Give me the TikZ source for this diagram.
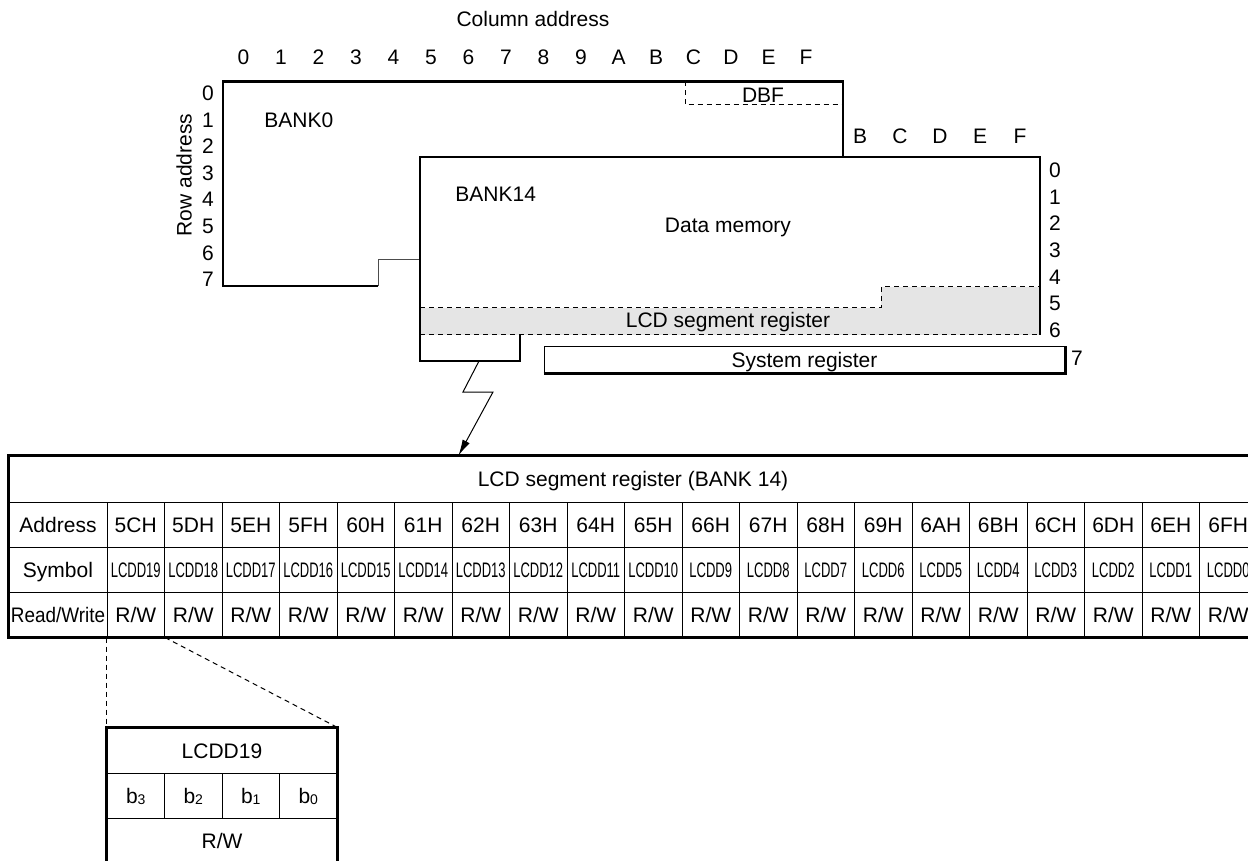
\documentclass[tikz,border=0pt]{standalone}
\usepackage{fontspec}
\setmainfont{Liberation Sans}
\newfontfamily\narrowfont[FakeStretch=0.62]{Liberation Sans}
\newfontfamily\tightfont[FakeStretch=0.9]{Liberation Sans}
\usetikzlibrary{positioning,arrows.meta,calc}
\newcommand{\figsize}{\fontsize{10.5}{12}\selectfont}
\newcommand{\bitlbl}[1]{b\raisebox{-0.6pt}{\fontsize{7}{8}\selectfont #1}}

\begin{document}
\begin{tikzpicture}[
    x=0.5pt, y=-0.5pt,
    font=\figsize,
    lbl/.style={inner sep=0pt, text height=7.5pt, text depth=0pt},
    outline/.style={line width=1.1pt},
    thinline/.style={line width=0.5pt},
    dashline/.style={line width=0.5pt, dash pattern=on 2.5pt off 2pt},
    cell/.style={draw, line width=0.5pt, minimum width=28.75pt, minimum height=22.5pt, inner sep=0pt, text height=7.5pt, text depth=0pt},
    connect/.style={-{Latex[length=8pt, width=4pt]}, line width=0.5pt},
]
  \useasboundingbox (0,0) rectangle (1248,861);

  \node[lbl] (coltitle) at (533,19.5) {Column address};
  \foreach \c [count=\i from 0] in {0,1,2,3,4,5,6,7,8,9,A,B,C,D,E,F}
    \node[lbl] (col\c) at (243.5+37.5*\i, 57) {\c};
  \foreach \r in {0,...,7}
    \node[lbl] (rowl\r) at (208, 93+26.6*\r) {\r};
  \node[lbl, rotate=90] (rowtitle) at (184,175) {Row address};
  \foreach \c [count=\i from 0] in {B,C,D,E,F}
    \node[lbl] (colr\c) at (860+40*\i, 136) {\c};
  \foreach \r in {0,...,6}
    \node[lbl] (rowr\r) at (1055, 170+26.7*\r) {\r};
  \node[lbl] (rowr7) at (1077,358) {7};

  \fill[gray!20] (420,308) -- (881,308) -- (881,287) -- (1040,287) -- (1040,335) -- (420,335) -- cycle;
  \draw[dashline] (420,308) -- (881,308) -- (881,287) -- (1040,287);
  \draw[dashline] (420,335) -- (1040,335);
  \draw[dashline] (685,81.5) -- (685,105) -- (843,105);
  \draw[outline] (378,286) -- (223,286) -- (223,81.5) -- (843,81.5) -- (843,157);
  \draw[thinline, black!70] (378,286) -- (378,260) -- (420,260);
  \draw[outline] (520,335) -- (520,361) -- (420,361) -- (420,157) -- (1040,157) -- (1040,335);

  \node[lbl, anchor=west] (bank0) at (264,120) {BANK0};
  \node[lbl, anchor=west] (bank14) at (455,194) {BANK14};
  \node[lbl] (datamem) at (728,225) {Data memory};
  \node[lbl] (dbf) at (763,95) {DBF};
  \node[lbl] (lcdseg) at (728,320) {LCD segment register};
  \node[draw, thinline, lbl, minimum width=260.5pt, minimum height=13pt] (sysreg) at (804.5,360) {System register};
  \draw[outline] (sysreg.south west) -- (sysreg.south east) -- (sysreg.north east);

  \node[cell, minimum width=624pt, minimum height=23pt] (title) at (633,479) {LCD segment register (BANK 14)};
  \node[cell, minimum width=49pt] (hadr) at (58,524.5) {Address};
  \node[cell, minimum width=49pt] (hsym) at (58,569.5) {Symbol};
  \node[cell, minimum width=49pt, font=\figsize\tightfont] (hrw) at (58,614.5) {Read/Write};
  \foreach \hexa [count=\i from 0] in {5C,5D,5E,5F,60,61,62,63,64,65,66,67,68,69,6A,6B,6C,6D,6E,6F} {
    \pgfmathtruncatemacro{\s}{19-\i}
    \node[cell] (adr\i) at (135.75+57.5*\i, 524.5) {\hexa H};
    \node[cell, font=\figsize\narrowfont] (sym\i) at (135.75+57.5*\i, 569.5) {LCDD\s};
    \node[cell] (rw\i) at (135.75+57.5*\i, 614.5) {R/W};
  }
  \draw[outline] (title.north west) rectangle (rw19.south east);

  \coordinate (zap) at (479,361);
  \draw[connect] (zap) -- ++(-16,31) -- ++(30,0) -- ($(title.north west)+(450,0)$);

  \node[cell, minimum width=115pt] (dname) at (222,750.5) {LCDD19};
  \foreach \b [count=\i from 0] in {3,2,1,0}
    \node[cell] (bit\b) at (135.75+57.5*\i, 795.5) {\bitlbl{\b}};
  \node[cell, minimum width=115pt] (drw) at (222,840.5) {R/W};
  \draw[outline] (dname.north west) rectangle (drw.south east);

  \draw[dashline] (rw0.south west) -- (dname.north west);
  \draw[dashline] (rw0.south east) -- (dname.north east);
\end{tikzpicture}
\end{document}
